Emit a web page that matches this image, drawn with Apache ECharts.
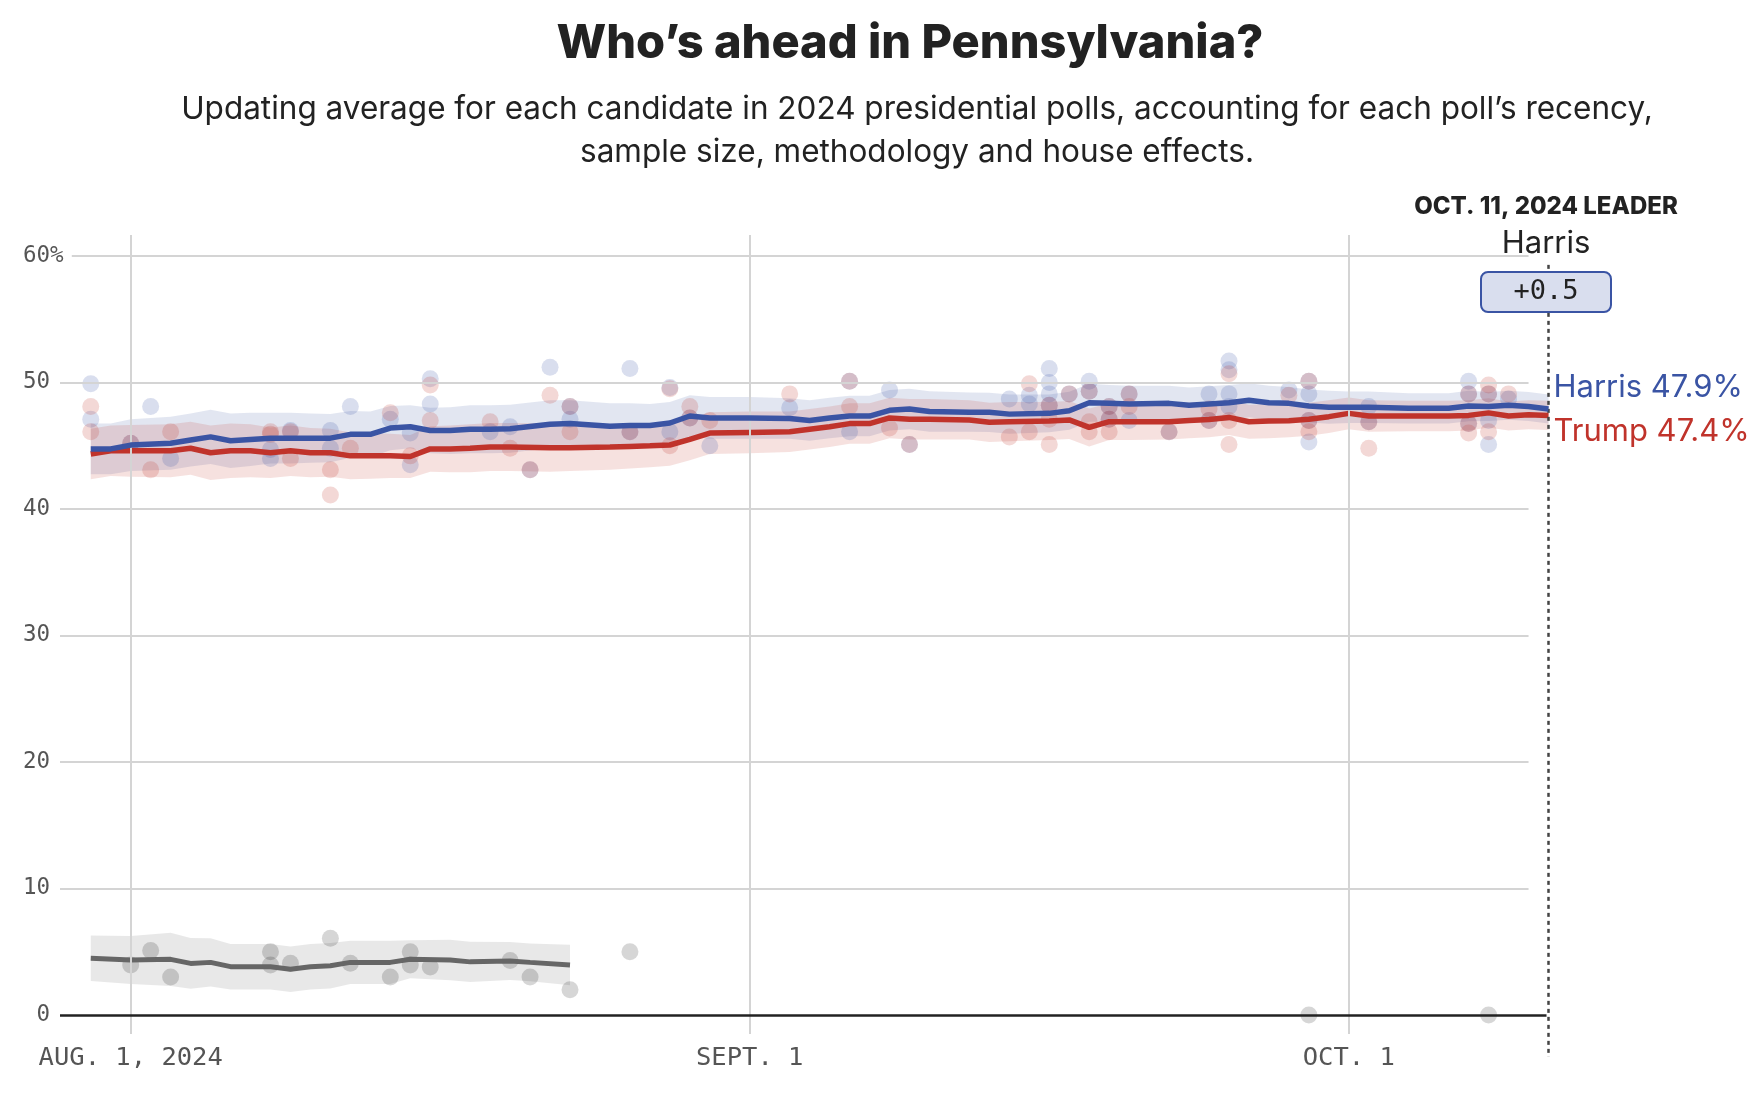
<!DOCTYPE html>
<html><head><meta charset="utf-8">
<script src="https://cdn.jsdelivr.net/npm/echarts@6.0.0/dist/echarts.min.js"></script>
<style>html,body{margin:0;padding:0;background:#fff}#c{width:1764px;height:1098px}</style>
</head><body><div id="c"></div>
<script>
// ---------- data (dates are 2024, MM-DD) ----------
const avgDates = ['07-30','07-31','08-01','08-03','08-04','08-05','08-06','08-07','08-08','08-09','08-10','08-11','08-12','08-13','08-14','08-15','08-16','08-17','08-18','08-19','08-20','08-22','08-23','08-25','08-26','08-27','08-28','08-29','08-30','09-01','09-03','09-04','09-05','09-06','09-07','09-08','09-09','09-10','09-12','09-13','09-14','09-16','09-17','09-18','09-19','09-20','09-22','09-23','09-24','09-25','09-26','09-27','09-28','09-29','09-30','10-01','10-02','10-04','10-06','10-07','10-08','10-09','10-10','10-11'];
const harrisAvg = [44.75,44.75,45.05,45.2,45.45,45.7,45.4,45.5,45.6,45.6,45.6,45.6,45.9,45.9,46.4,46.5,46.2,46.2,46.3,46.3,46.35,46.7,46.75,46.55,46.6,46.6,46.8,47.35,47.2,47.2,47.15,47.0,47.2,47.35,47.35,47.8,47.9,47.7,47.65,47.64,47.5,47.56,47.77,48.4,48.35,48.3,48.35,48.2,48.3,48.4,48.6,48.4,48.35,48.14,48.04,48.04,48.04,47.96,47.96,48.14,48.1,48.2,48.1,47.9];
const trumpAvg = [44.35,44.6,44.6,44.6,44.8,44.45,44.6,44.6,44.45,44.6,44.45,44.45,44.2,44.2,44.2,44.15,44.75,44.75,44.8,44.9,44.9,44.85,44.85,44.9,44.95,45.0,45.06,45.5,46.0,46.05,46.1,46.3,46.5,46.75,46.75,47.2,47.1,47.1,47.04,46.85,46.9,46.95,47.04,46.45,46.9,46.9,46.9,47.0,47.08,47.24,46.9,46.95,46.98,47.1,47.3,47.56,47.35,47.35,47.35,47.4,47.6,47.35,47.45,47.4];
const avgMargin = [2.0,2.0,2.05,2.1,2.1,2.15,2.15,2.1,2.0,2.0,1.95,1.9,1.85,1.8,1.75,1.7,1.8,1.85,1.9,1.9,1.9,1.9,1.85,1.8,1.75,1.7,1.65,1.65,1.65,1.65,1.6,1.6,1.6,1.6,1.6,1.6,1.6,1.6,1.55,1.55,1.55,1.5,1.5,1.5,1.45,1.45,1.4,1.4,1.4,1.4,1.35,1.35,1.3,1.3,1.3,1.25,1.25,1.2,1.2,1.2,1.15,1.15,1.15,1.15];

const otherDates = ['07-30','08-01','08-03','08-04','08-05','08-06','08-08','08-09','08-10','08-11','08-12','08-14','08-15','08-17','08-18','08-20','08-21','08-23'];
const otherAvg = [4.48,4.35,4.4,4.08,4.16,3.82,3.82,3.61,3.82,3.9,4.16,4.16,4.4,4.35,4.2,4.27,4.16,3.95];
const otherMargin = [1.8,1.9,2.1,2.0,1.9,1.8,1.8,1.8,1.8,1.8,1.7,1.7,1.5,1.6,1.6,1.5,1.5,1.6];

const harrisPollDates = ['07-30','07-30','08-01','08-02','08-03','08-08','08-08','08-09','08-11','08-11','08-12','08-14','08-15','08-15','08-16','08-16','08-19','08-20','08-21','08-22','08-23','08-23','08-26','08-26','08-28','08-28','08-29','08-30','09-03','09-06','09-06','09-08','09-09','09-14','09-15','09-15','09-16','09-16','09-16','09-16','09-17','09-18','09-18','09-19','09-19','09-20','09-20','09-22','09-24','09-24','09-25','09-25','09-25','09-25','09-28','09-29','09-29','09-29','09-29','10-02','10-02','10-07','10-07','10-07','10-08','10-08','10-08','10-09'];
const harrisPollValues = [49.9,47.1,45.2,48.1,44.0,44.7,44.0,46.2,46.2,44.8,48.1,47.1,46.0,43.5,50.3,48.3,46.1,46.5,43.1,51.2,48.1,47.1,51.1,46.1,49.6,46.1,47.2,45.0,48.0,50.1,46.1,49.4,45.1,48.7,49.0,48.3,51.1,50.0,49.1,48.2,49.1,50.1,49.3,48.1,47.1,49.1,47.0,46.1,49.1,47.0,51.7,51.0,49.1,48.1,49.4,50.1,49.1,47.0,45.3,48.1,46.9,50.1,49.1,46.75,49.1,47.0,45.1,48.7];
const trumpPollDates = ['07-30','07-30','08-01','08-02','08-03','08-08','08-08','08-09','08-09','08-11','08-11','08-12','08-14','08-15','08-16','08-16','08-19','08-20','08-21','08-22','08-23','08-23','08-26','08-28','08-28','08-29','08-29','08-30','09-03','09-06','09-06','09-08','09-09','09-14','09-15','09-15','09-16','09-16','09-16','09-17','09-18','09-18','09-18','09-19','09-19','09-19','09-20','09-20','09-22','09-24','09-24','09-25','09-25','09-25','09-28','09-29','09-29','09-29','10-02','10-02','10-07','10-07','10-07','10-08','10-08','10-08','10-09'];
const trumpPollValues = [48.1,46.1,45.2,43.1,46.1,46.1,45.9,46.1,44.0,43.1,41.1,44.8,47.6,44.2,49.8,47.0,46.9,44.8,43.1,49.0,48.1,46.1,46.1,49.5,45.0,47.2,48.1,47.0,49.1,50.1,48.1,46.4,45.1,45.7,49.9,46.1,48.2,47.1,45.1,49.1,49.3,46.9,46.1,48.1,47.1,46.1,49.1,48.1,46.1,47.9,47.0,50.7,47.0,45.1,49.0,50.1,47.0,46.1,46.9,44.8,49.1,46.75,46.0,49.8,49.1,46.1,49.1];
const otherPollDates = ['08-01','08-02','08-03','08-08','08-08','08-09','08-11','08-12','08-14','08-15','08-15','08-16','08-20','08-21','08-23','08-26','09-29','10-08'];
const otherPollValues = [3.95,5.1,3.0,5.0,3.95,4.1,6.06,4.1,3.0,5.0,3.95,3.8,4.3,3.0,2.0,5.0,0,0];

const yTicks = [0,10,20,30,40,50,60];
const yTickLabels = [' 0','10','20','30','40','50','60%'];
const xTickDates = ['08-01','09-01','10-01'];
const xTickLabels = ['AUG. 1, 2024','SEPT. 1','OCT. 1'];
const leaderDate = '10-11';
const gridEndDate = '10-10';

// ---------- helpers ----------
const BASE = Date.UTC(2024,7,1);
const day = s => (Date.UTC(2024, +s.slice(0,2)-1, +s.slice(3)) - BASE) / 864e5;
const pts = (dates, vals) => dates.map((d,i) => [day(d), vals[i]]);

const BLUE = '#3a54a4', RED = '#c0332b', GRAY = '#666666';
const MONO = '"DejaVu Sans Mono", monospace';
const SANS = 'Inter, "Noto Sans", sans-serif';
const XMIN = -3.54, XMAX = day(leaderDate);
const YMIN = -3.32, YMAX = 61.66, VBOTTOM = -1.5;

function band(dates, mid, margin, fill, z) {
  return {
    type: 'custom', silent: true, z, clip: false,
    data: [[0, 30]],
    renderItem(params, api) {
      const top = dates.map((d,i) => api.coord([day(d), mid[i] + margin[i]]));
      const bot = dates.map((d,i) => api.coord([day(d), mid[i] - margin[i]])).reverse();
      return { type: 'polygon', shape: { points: top.concat(bot) }, style: { fill } };
    }
  };
}

const gridLineStyle = { color: '#d4d4d4', width: 2, type: 'solid' };
const markData = [];
yTicks.filter(v => v > 0).forEach(v => {
  markData.push([{ coord: [v === 60 ? -2.95 : XMIN, v], lineStyle: gridLineStyle },
                 { coord: [day(gridEndDate), v] }]);
});
xTickDates.forEach(d => {
  markData.push([{ coord: [day(d), YMAX], lineStyle: gridLineStyle }, { coord: [day(d), VBOTTOM] }]);
});
markData.push([{ coord: [XMIN, 0], lineStyle: { color: '#222', width: 2.5, type: 'solid' } }, { coord: [XMAX - 0.1, 0] }]);

const lead = harrisAvg[harrisAvg.length-1] - trumpAvg[trumpAvg.length-1];

const chart = echarts.init(document.getElementById('c'), null, { renderer: 'canvas' });
chart.setOption({
  animation: false,
  backgroundColor: '#ffffff',
  grid: { left: 60, right: 215.5, top: 235, bottom: 41, containLabel: false },
  xAxis: {
    type: 'value', min: XMIN, max: XMAX, offset: -23,
    axisLine: { show: false }, axisTick: { show: false }, splitLine: { show: false },
    axisLabel: {
      customValues: xTickDates.map(day),
      formatter: v => xTickLabels[xTickDates.map(day).indexOf(v)] || '',
      fontFamily: MONO, fontSize: 25.5, color: '#555', margin: 11
    }
  },
  yAxis: {
    type: 'value', min: YMIN, max: YMAX,
    axisLine: { show: false }, axisTick: { show: false }, splitLine: { show: false },
    axisLabel: {
      customValues: yTicks,
      formatter: v => yTickLabels[yTicks.indexOf(v)],
      align: 'left',
      fontFamily: MONO, fontSize: 22.5, color: '#555', margin: 37
    }
  },
  series: [
    { type: 'line', data: [], clip: false, silent: true, z: 0,
      markLine: { symbol: ['none','none'], silent: true, label: { show: false }, animation: false, data: markData } },
    band(otherDates, otherAvg, otherMargin, 'rgba(0,0,0,0.09)', 1),
    band(avgDates, harrisAvg, avgMargin, 'rgba(58,84,164,0.15)', 1),
    band(avgDates, trumpAvg, avgMargin, 'rgba(192,51,43,0.15)', 1),
    { type: 'scatter', data: pts(otherPollDates, otherPollValues), symbolSize: 17, z: 2, clip: false,
      itemStyle: { color: 'rgba(0,0,0,0.2)' } },
    { type: 'scatter', data: pts(harrisPollDates, harrisPollValues), symbolSize: 17, z: 2,
      itemStyle: { color: 'rgba(58,84,164,0.24)' } },
    { type: 'scatter', data: pts(trumpPollDates, trumpPollValues), symbolSize: 17, z: 2,
      itemStyle: { color: 'rgba(192,51,43,0.24)' } },
    { type: 'line', data: pts(otherDates, otherAvg), showSymbol: false, z: 3,
      lineStyle: { color: GRAY, width: 5 } },
    { type: 'line', name: 'Trump', data: pts(avgDates, trumpAvg), showSymbol: false, z: 4,
      lineStyle: { color: RED, width: 5.5 }, itemStyle: { color: RED },
      endLabel: { show: true, formatter: p => 'Trump ' + p.value[1].toFixed(1) + '%', color: RED,
                  fontFamily: SANS, fontSize: 31, distance: 5, offset: [0, 16] } },
    { type: 'line', name: 'Harris', data: pts(avgDates, harrisAvg), showSymbol: false, z: 5,
      lineStyle: { color: BLUE, width: 5.5 }, itemStyle: { color: BLUE },
      endLabel: { show: true, formatter: p => 'Harris ' + p.value[1].toFixed(1) + '%', color: BLUE,
                  fontFamily: SANS, fontSize: 31, distance: 5, offset: [0, -21] },
      markLine: { symbol: ['none','none'], silent: true, label: { show: false }, animation: false,
                  data: [[{ coord: [XMAX, 59.3], lineStyle: { color: '#444', width: 2.5, type: [4, 4] } }, { coord: [XMAX, YMIN] }]] } }
  ],
  graphic: [
    { type: 'text', x: 910, y: 44, z: 100, style: { text: 'Who’s ahead in Pennsylvania?', fontFamily: SANS, fontWeight: 800, fontSize: 47, fill: '#222', align: 'center', verticalAlign: 'middle' } },
    { type: 'text', x: 917, y: 110, z: 100, style: { text: 'Updating average for each candidate in 2024 presidential polls, accounting for each poll’s recency,', fontFamily: SANS, fontSize: 31.5, fill: '#222', align: 'center', verticalAlign: 'middle' } },
    { type: 'text', x: 917, y: 153, z: 100, style: { text: 'sample size, methodology and house effects.', fontFamily: SANS, fontSize: 31.5, fill: '#222', align: 'center', verticalAlign: 'middle' } },
    { type: 'text', x: 1546, y: 207, z: 100, style: { text: 'OCT. 11, 2024 LEADER', fontFamily: SANS, fontWeight: 800, fontSize: 24, fill: '#222', align: 'center', verticalAlign: 'middle' } },
    { type: 'text', x: 1546, y: 244, z: 100, style: { text: 'Harris', fontFamily: SANS, fontSize: 31, fill: '#222', align: 'center', verticalAlign: 'middle' } },
    { type: 'rect', z: 100, shape: { x: 1481, y: 272, width: 130, height: 40, r: 7 }, style: { fill: '#d9deee', stroke: BLUE, lineWidth: 2 } },
    { type: 'text', x: 1546, y: 292, z: 101, style: { text: '+' + lead.toFixed(1), fontFamily: MONO, fontSize: 27, fill: '#222', align: 'center', verticalAlign: 'middle' } }
  ]
});
</script></body></html>
